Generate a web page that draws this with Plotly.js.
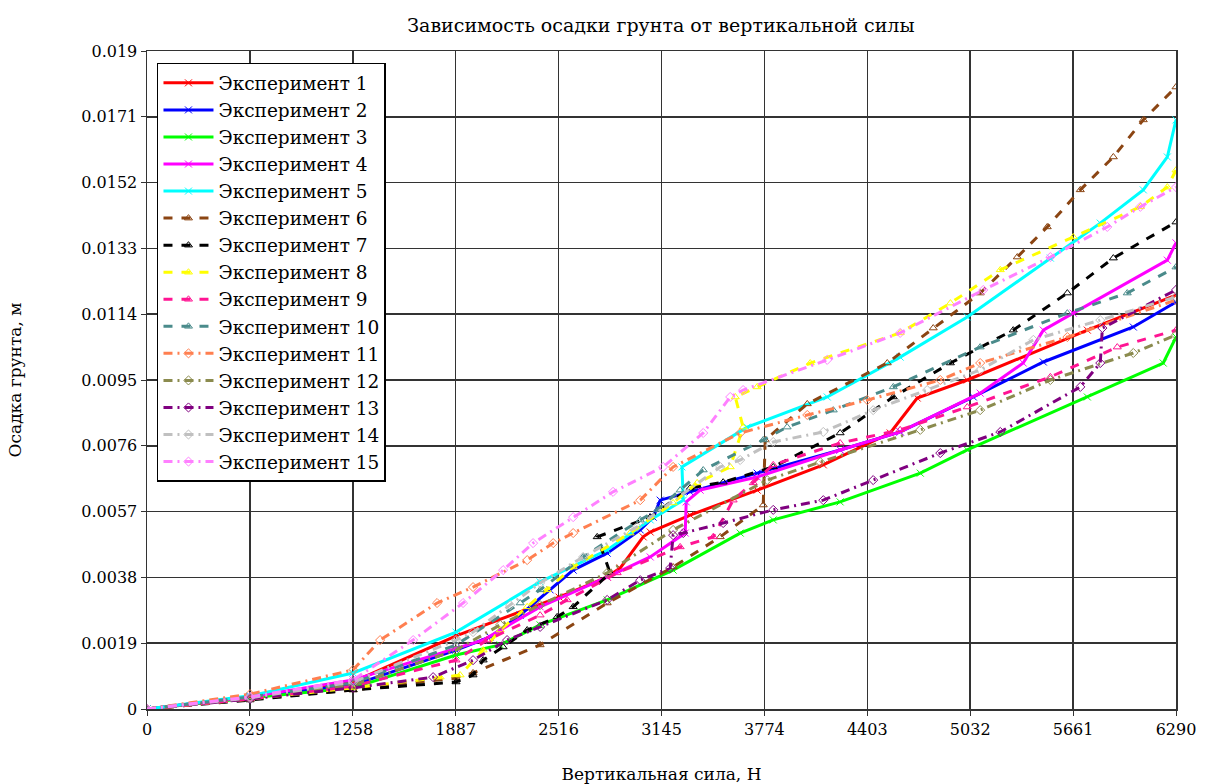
<!DOCTYPE html>
<html>
<head>
<meta charset="utf-8">
<script src="https://cdn.plot.ly/plotly-3.0.1.min.js"></script>
<style>html,body{margin:0;padding:0;background:#fff;}#chart{width:1206px;height:784px;}</style>
</head>
<body>
<div id="chart"></div>
<script>
// Tick values
const xTicks = [0, 629, 1258, 1887, 2516, 3145, 3774, 4403, 5032, 5661, 6290];
const yTicks = [0, 0.0019, 0.0038, 0.0057, 0.0076, 0.0095, 0.0114, 0.0133, 0.0152, 0.0171, 0.019];

const seriesNames = ["Эксперимент 1","Эксперимент 2","Эксперимент 3","Эксперимент 4","Эксперимент 5",
  "Эксперимент 6","Эксперимент 7","Эксперимент 8","Эксперимент 9","Эксперимент 10",
  "Эксперимент 11","Эксперимент 12","Эксперимент 13","Эксперимент 14","Эксперимент 15"];

const x1 = [0,630,1260,1889,2519,2813,2892,3033,3076,3320,3730,4134,4543,4708,5014,5748,6290];
const y1 = [0,0.00035,0.00078,0.00211,0.00323,0.00381,0.00407,0.00497,0.00511,0.0056,0.00632,0.00705,0.00797,0.00898,0.0095,0.01094,0.01195];

const x2 = [0,630,1260,1889,2097,2281,2464,2605,2813,3015,3094,3137,3320,3730,4237,4604,5051,5479,6029,6290];
const y2 = [0,0.00035,0.00069,0.0017,0.00208,0.00271,0.00344,0.00401,0.0045,0.00517,0.00554,0.00603,0.00627,0.00681,0.00748,0.008,0.00901,0.01002,0.01103,0.01175];

const x3 = [0,630,1260,1889,2159,2403,2813,3216,3626,3828,4237,4727,5014,5748,6212,6290];
const y3 = [0,0.00032,0.00061,0.00156,0.00185,0.00243,0.00315,0.00401,0.00508,0.00546,0.00598,0.00681,0.00748,0.00901,0.00999,0.01074];

const x4 = [0,630,1260,1889,2055,2403,2813,3076,3290,3296,3381,3730,4237,4604,5093,5356,5479,5662,6237,6290];
const y4 = [0,0.00035,0.00084,0.00176,0.00199,0.00295,0.00381,0.00439,0.00508,0.00598,0.00632,0.0067,0.00748,0.008,0.00912,0.00999,0.01094,0.01143,0.01296,0.01346];

const x5 = [0,630,1260,1889,2403,2813,3076,3278,3270,3669,4158,4604,5014,5522,5827,6090,6237,6290];
const y5 = [0,0.00038,0.00104,0.00222,0.00367,0.00459,0.00546,0.00603,0.00699,0.00814,0.00901,0.01016,0.01132,0.01302,0.01403,0.01499,0.01594,0.01701];

const x6 = [0,630,1260,1889,1993,2403,2813,3216,3504,3767,3779,4036,4525,4806,5093,5320,5503,5705,5907,6090,6290];
const y6 = [0,0.00029,0.00055,0.0009,0.00104,0.00185,0.00306,0.0041,0.00497,0.00589,0.00777,0.00881,0.00999,0.011,0.01201,0.01305,0.01392,0.01499,0.01594,0.01701,0.01796];

const x7 = [0,630,1260,1889,1993,2055,2177,2324,2507,2605,2831,2752,3076,3320,3522,3828,4237,4562,4911,5295,5626,5907,6290];
const y7 = [0,0.00026,0.00055,0.00078,0.00098,0.00141,0.00179,0.00228,0.00266,0.00295,0.00393,0.00497,0.00554,0.00638,0.00655,0.00699,0.00797,0.00901,0.00999,0.01094,0.01201,0.01302,0.01406];

const x8 = [0,630,1260,1792,1914,2055,2159,2324,2446,2605,2953,3216,3363,3565,3644,3596,3730,4054,4604,4911,5216,5662,6072,6237,6290];
const y8 = [0,0.00029,0.00061,0.00092,0.00098,0.0017,0.00228,0.00295,0.00344,0.0041,0.00508,0.00595,0.00653,0.00699,0.00814,0.00901,0.0093,0.00999,0.01086,0.01172,0.01268,0.01363,0.0145,0.01507,0.01556];

const x9 = [0,630,1260,1889,2079,2403,2568,2874,3259,3461,3583,3706,3828,4237,4604,5014,5522,5931,6290];
const y9 = [0,0.00029,0.00066,0.00141,0.00199,0.00271,0.00315,0.00393,0.00468,0.00497,0.00603,0.00653,0.00705,0.00768,0.00806,0.00872,0.00959,0.01045,0.01094];

const x10 = [0,630,1260,1889,2281,2403,2666,3015,3119,3259,3400,3767,3913,4195,4562,5093,5626,5992,6290];
const y10 = [0,0.00035,0.00075,0.00185,0.00306,0.00344,0.00439,0.00546,0.00575,0.00632,0.0069,0.00777,0.00814,0.00863,0.0093,0.01045,0.01143,0.01201,0.01276];

const x11 = [0,630,1260,1425,1773,1993,2324,2483,2605,3015,3216,3626,4036,4403,4849,5093,5626,6290];
const y11 = [0,0.00043,0.00113,0.00199,0.00306,0.00352,0.0043,0.00479,0.00508,0.00603,0.00699,0.00797,0.00849,0.00892,0.0095,0.00999,0.01074,0.01181];

const x12 = [0,630,1260,1889,2159,2403,2813,3216,3791,4115,4727,5093,5522,6029,6290];
const y12 = [0,0.00032,0.00069,0.0017,0.00243,0.003,0.00393,0.00517,0.00661,0.00713,0.00806,0.00863,0.0095,0.01028,0.0108];

const x13 = [0,630,1260,1749,1993,2201,2403,2813,3015,3198,3216,3278,3522,3828,4134,4439,4849,5216,5705,5827,5840,6290];
const y13 = [0,0.00029,0.00061,0.00092,0.00141,0.00199,0.00237,0.00315,0.00372,0.00407,0.00502,0.00508,0.00537,0.00575,0.00603,0.00661,0.00739,0.008,0.0093,0.00999,0.011,0.0121];

const x14 = [0,630,1260,1889,1993,2220,2403,2666,2996,3504,3626,3828,4134,4439,4769,5093,5418,5827,6290];
const y14 = [0,0.00032,0.00078,0.00199,0.00222,0.003,0.00364,0.00439,0.00526,0.00699,0.00719,0.00771,0.008,0.00863,0.00921,0.00979,0.01066,0.01123,0.0119];

const x15 = [0,630,1260,1627,1932,2177,2360,2605,2849,3155,3400,3565,3644,4158,4604,5112,5522,5870,6072,6290];
const y15 = [0,0.00035,0.00084,0.00199,0.00306,0.00401,0.00479,0.00554,0.00627,0.00699,0.00797,0.00901,0.00921,0.01008,0.01086,0.0121,0.01305,0.01392,0.0145,0.01507];

const xs = [x1,x2,x3,x4,x5,x6,x7,x8,x9,x10,x11,x12,x13,x14,x15];
const ys = [y1,y2,y3,y4,y5,y6,y7,y8,y9,y10,y11,y12,y13,y14,y15];

const colors = ["#ff0000","#0000ff","#00ff00","#ff00ff","#00ffff",
  "#8b4513","#000000","#ffff00","#ff1493","#4a8b8b",
  "#ff7f50","#8b8b4e","#800080","#c0c0c0","#ff80ff"];

const DASHDOT = "9px,5px,2px,5px";
const traces = xs.map((x, i) => {
  let dash = "solid", symbol = "x-thin-open";
  if (i >= 5 && i < 10) { dash = "dash"; symbol = "triangle-up-open"; }
  if (i >= 10) { dash = DASHDOT; symbol = "diamond-open"; }
  return {
    x: x, y: ys[i], name: seriesNames[i], type: "scatter", mode: "lines+markers",
    line: {color: colors[i], width: 3, dash: dash},
    marker: {symbol: symbol, size: 7, color: colors[i], line: {color: colors[i], width: 1}}
  };
});

const serif = "DejaVu Serif";
const layout = {
  width: 1206, height: 784,
  paper_bgcolor: "#ffffff", plot_bgcolor: "#ffffff",
  margin: {l: 147, r: 30, t: 51, b: 75},
  font: {family: serif, size: 16, color: "#000"},
  title: {text: "Зависимость осадки грунта от вертикальной силы", font: {family: serif, size: 19, color: "#000"},
          x: 0.548, xanchor: "center", y: 0.968, yanchor: "middle"},
  showlegend: true,
  legend: {x: 0.0097, y: 0.982, xanchor: "left", yanchor: "top", bgcolor: "#ffffff",
           bordercolor: "#000", borderwidth: 1.5, font: {family: serif, size: 18.5, color: "#000"},
           tracegroupgap: 0, itemwidth: 50},
  xaxis: {
    range: [0, 6290], tickvals: xTicks, ticktext: xTicks.map(String),
    showgrid: true, gridcolor: "#333", gridwidth: 1.5, zeroline: false,
    showline: true, linecolor: "#333", linewidth: 1.5, mirror: true,
    ticks: "outside", ticklen: 5, tickcolor: "#333",
    tickfont: {family: serif, size: 16, color: "#000"},
    title: {text: "Вертикальная сила, Н", font: {family: serif, size: 17, color: "#000"}, standoff: 34}
  },
  yaxis: {
    range: [0, 0.019], tickvals: yTicks, ticktext: yTicks.map(String),
    showgrid: true, gridcolor: "#333", gridwidth: 1.5, zeroline: false,
    showline: true, linecolor: "#333", linewidth: 1.5, mirror: true,
    ticks: "outside", ticklen: 5, tickcolor: "#333",
    tickfont: {family: serif, size: 16, color: "#000"},
    title: {text: "Осадка грунта, м", font: {family: serif, size: 17, color: "#000"}, standoff: 55}
  }
};

Plotly.newPlot("chart", traces, layout, {displayModeBar: false, staticPlot: true});
</script>
</body>
</html>
